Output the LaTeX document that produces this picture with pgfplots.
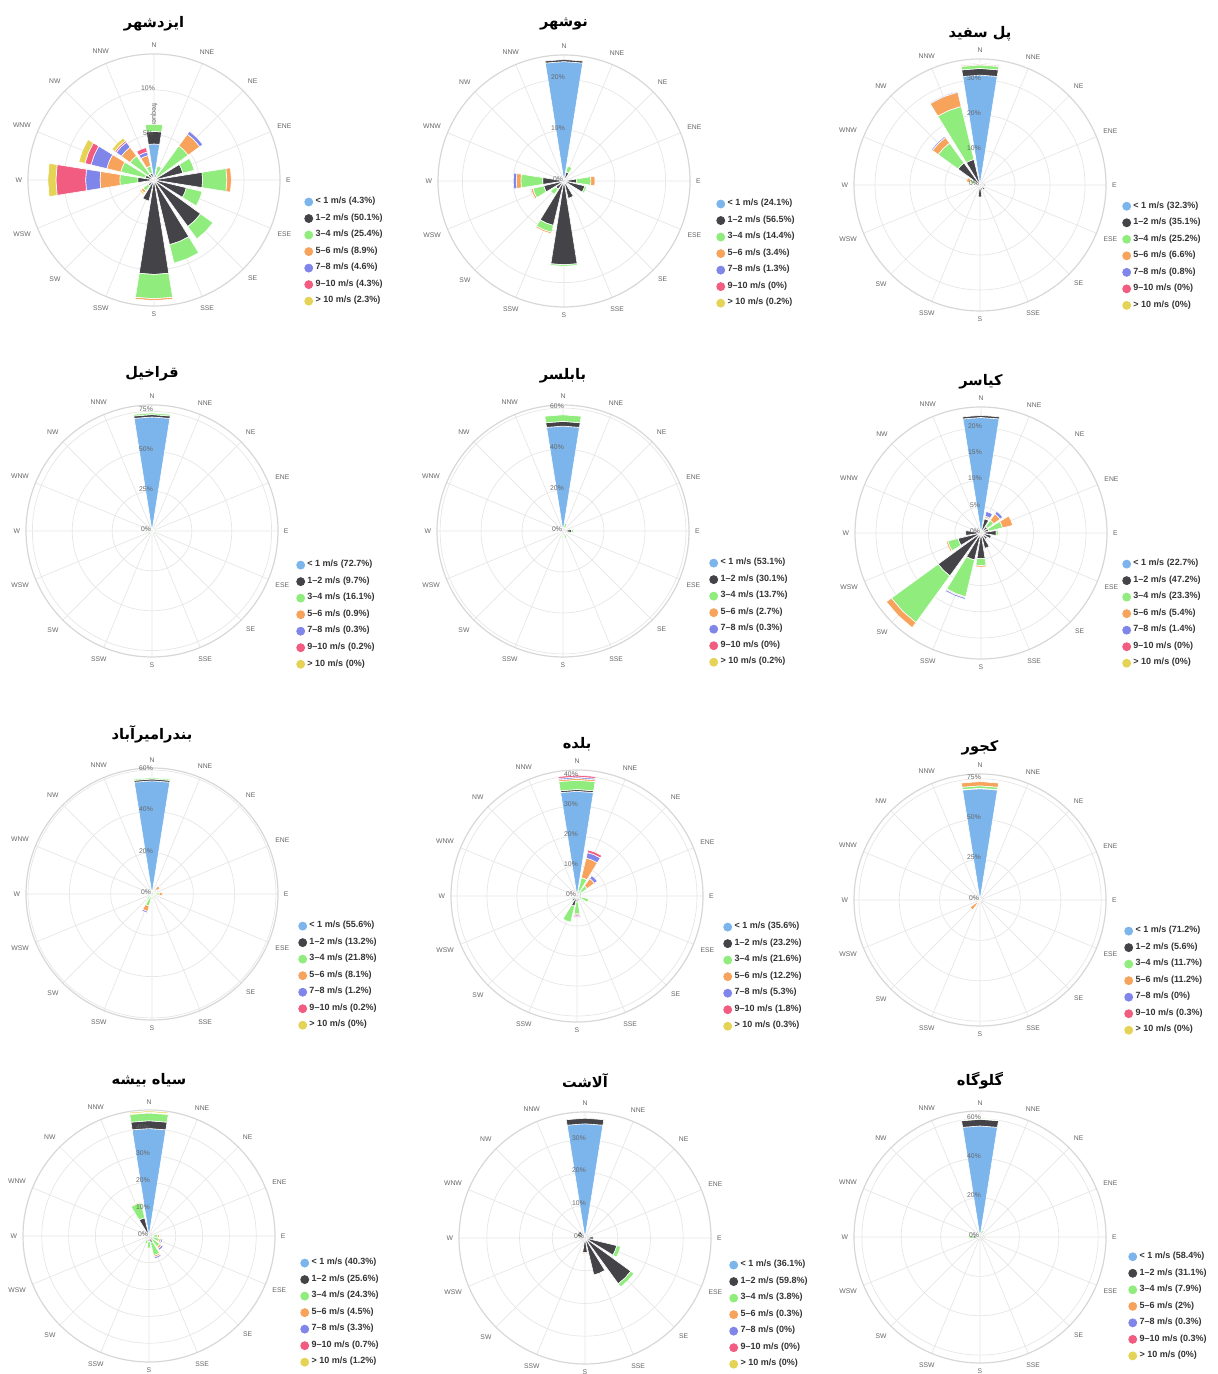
\documentclass[border=0pt]{standalone}
\usepackage{pgfplots}
\pgfplotsset{compat=1.18}
\usepackage{pgfplotstable}
\usepgfplotslibrary{polar}
\usepackage{fontspec}
\setmainfont{Liberation Sans}
\newfontfamily\arabicfont[Script=Arabic]{DejaVu Sans}
\TeXXeTstate=1

\definecolor{wc1}{HTML}{7CB5EC}
\definecolor{wc2}{HTML}{434348}
\definecolor{wc3}{HTML}{90ED7D}
\definecolor{wc4}{HTML}{F7A35C}
\definecolor{wc5}{HTML}{8085E9}
\definecolor{wc6}{HTML}{F15C80}
\definecolor{wc7}{HTML}{E4D354}
\definecolor{gridgray}{HTML}{E6E6E6}
\definecolor{labgray}{HTML}{666666}
\definecolor{legtext}{HTML}{333333}

% columns: <1, 1-2, 3-4, 5-6, 7-8, 9-10, >10 ; rows: N NNE NE ENE E ESE SE SSE S SSW SW WSW W WNW NW NNW
\pgfplotstableread{
c1 c2 c3 c4 c5 c6 c7
4.0 1.4 0.8 0 0 0 0
0 0.6 1.0 0 0 0 0
0 0.3 4.4 1.6 0.4 0 0
0 3.3 1.3 0 0 0 0
0 5.4 2.7 0.5 0 0 0
0 3.7 1.8 0 0 0 0
0 6.4 1.7 0 0 0 0
0 7.4 2.1 0 0 0 0
0 10.5 2.7 0.2 0 0 0
0 2.4 0 0 0 0 0
0 0.8 0.7 0.3 0 0 0.2
0 0.3 0 0 0 0 0
0 1.8 2.0 2.2 1.6 3.3 0.9
0 1.0 2.8 1.6 1.8 0.7 0.7
0 0.8 2.5 1.2 0.7 0.2 0.4
0.3 0.5 0.8 1.2 0.4 0.5 0
}\tA
\pgfplotstableread{
c1 c2 c3 c4 c5 c6 c7
23.5 0.4 0 0 0 0 0
0.3 1.5 1.2 0 0 0 0
0 0.5 0 0 0 0 0
0 0.8 0 0 0 0 0
0 2.5 2.8 0.8 0 0 0
0 4.2 0.4 0 0 0 0
0 1.0 0 0 0 0 0
0 3.5 0 0 0 0 0
0 16.5 0.3 0 0 0 0
0 9.0 1.4 0.3 0 0 0
0 2.0 1.3 0 0 0 0
0 4.1 2.2 0.4 0.2 0 0
0 4.2 4.3 0.9 0.6 0 0
0 0.8 0 0 0 0 0
0 0.5 0.5 0 0 0 0
0 0.5 0 0 0 0 0
}\tB
\pgfplotstableread{
c1 c2 c3 c4 c5 c6 c7
31.4 1.9 1.0 0.3 0.2 0 0
0 0.8 0 0 0 0 0
0 0.6 0 0 0 0 0
0 0.6 0 0 0 0 0
0 1.5 0 0 0 0 0
0 0.8 0 0 0 0 0
0.3 1.5 0 0 0 0 0
0 1.5 0 0 0 0 0
0 3.4 0 0 0 0 0
0 1.0 0 0 0 0 0
0 0.8 0 0 0 0 0
0 0.8 0 0 0 0 0
0 1.0 0.5 0 0 0 0
0 1.5 1.5 1.0 0 0 0
0.3 7.5 7.0 2.0 0.4 0 0
0.3 7.2 15.6 4.2 0.3 0 0
}\tC
\pgfplotstableread{
c1 c2 c3 c4 c5 c6 c7
71.5 1.5 1.0 0 0 0 0
0.1 0.5 1.0 0 0 0 0
0.1 0.5 2.5 0.3 0 0 0
0.1 0.5 1.0 0 0 0 0
0.1 0.6 1.0 0.1 0 0 0
0.1 0.5 0.8 0 0 0 0
0.1 0.5 0.8 0 0 0 0
0.1 0.5 0.8 0 0 0 0
0.1 0.6 1.5 0.2 0 0 0
0.1 0.5 0.8 0 0 0 0
0.1 0.5 0.8 0 0 0 0
0.1 0.5 0.8 0 0 0 0
0.1 0.6 1.0 0.1 0 0 0
0.1 0.5 0.8 0 0 0 0
0.1 0.5 0.8 0 0 0 0
0.1 0.5 0.8 0 0 0 0
}\tD
\pgfplotstableread{
c1 c2 c3 c4 c5 c6 c7
51.2 2.3 3.2 0 0 0 0
0.2 1.2 2.5 0.4 0 0 0
0.1 1.5 0.5 0 0 0 0
0.1 1.5 0.5 0 0 0 0
0.1 4.0 1.0 0 0 0 0
0.1 1.5 0.5 0 0 0 0
0.1 1.5 0.5 0 0 0 0
0.1 1.5 2.0 0 0 0 0
0.1 2.0 0.5 0 0 0 0
0.1 1.5 0.5 0 0 0 0
0.1 1.5 0.5 0 0 0 0
0.1 1.5 0.5 0 0 0 0
0.1 2.0 0.5 0 0 0 0
0.1 1.5 0.5 0 0 0 0
0.1 1.5 0.5 0 0 0 0
0.1 1.5 0.5 0 0 0 0
}\tE
\pgfplotstableread{
c1 c2 c3 c4 c5 c6 c7
22.0 0.4 0 0 0 0 0
0 2.8 0.2 0.3 0.9 0 0
0 1.5 1.5 1.5 0.6 0 0
0 1.5 2.7 2.0 0 0 0
0 2.9 0.4 0.2 0 0 0
0 2.0 0 0 0 0 0
0 1.5 0 0 0 0 0
0 3.0 0 0 0 0 0
0 4.9 1.3 0.3 0 0 0
0 5.3 7.2 0.2 0.3 0 0
0 10.1 11.0 1.2 0 0 0
0 4.5 2.0 0.3 0 0 0
0 2.9 0 0 0 0 0
0 1.0 0 0 0 0 0
0 0.5 0 0 0 0 0
0 0.5 0 0 0 0 0
}\tF
\pgfplotstableread{
c1 c2 c3 c4 c5 c6 c7
54.8 0.9 0.6 0 0 0 0
0 0.5 1.0 0.5 0 0 0
0 0.8 2.0 2.0 0.3 0 0
0 0.5 1.5 0.5 0 0 0
0 1.0 2.5 1.5 0 0 0
0 0.5 0.8 0 0 0 0
0 0.5 0.8 0 0 0 0
0 0.5 0.8 0 0 0 0
0 0.8 2.0 0.5 0 0 0
0 1.0 5.0 2.7 0.8 0.2 0
0 0.8 2.5 0.5 0 0 0
0 0.5 0.8 0 0 0 0
0 0.5 0.8 0 0 0 0
0 0.5 0.8 0 0 0 0
0 0.5 0.8 0 0 0 0
0 0.5 0.8 0 0 0 0
}\tG
\pgfplotstableread{
c1 c2 c3 c4 c5 c6 c7
34.9 0.6 3.1 0.6 0.5 0.6 0
0 1.5 4.8 6.7 1.9 0.9 0
0 1.2 3.0 3.0 1.2 0 0
0 1.5 0.5 0 0 0 0
0 1.5 0 0 0 0 0
0 1.5 2.5 0 0 0 0
0 1.0 0 0 0 0 0
0 1.5 0 0 0 0 0
0 2.0 4.0 0.4 0.4 0.4 0
0 3.5 5.5 0 0 0 0
0 2.0 0.5 0 0 0 0
0 1.0 0 0 0 0 0
0 1.0 0 0.3 0 0 0
0 0.8 0 0.5 0.3 0 0
0 0.8 0.5 0.5 0.3 0.5 0
0 0.8 0 0.3 0 0 0
}\tH
\pgfplotstableread{
c1 c2 c3 c4 c5 c6 c7
68.9 0.3 1.5 2.6 0 0 0
0.1 0.3 1.0 0 0 0 0
0.1 0.3 0.5 0 0 0 0
0.1 0.3 0.8 0 0 0 0
0.1 0.3 0.5 0 0 0 0
0.1 0.3 0.5 0 0 0 0
0.1 0.3 0.5 0 0 0 0
0.1 0.3 0.5 0 0 0 0
0.1 0.3 0.5 0.5 0 0 0
0.1 0.3 0.5 0.8 0 0 0
0.1 0.5 1.5 5.5 0 0 0
0.1 0.3 0.5 0.8 0 0 0
0.1 0.3 0.5 0 0 0 0
0.1 0.3 0.5 0 0 0 0
0.1 0.3 0.5 0 0 0 0
0.1 0.3 0.5 0 0 0 0
}\tI
\pgfplotstableread{
c1 c2 c3 c4 c5 c6 c7
40.1 2.9 2.9 0.3 0 0 0.5
0 0.6 0 0 0 0 0
0 0.6 0 0 0 0 0
0 0.6 0 0 0 0 0
0 1.5 1.8 0.6 0.3 0 0
0 1.5 2.5 0.7 0.6 0.2 0
0 2.0 3.0 0.8 0.8 0.3 0
0 2.5 5.0 0.6 0.6 0 0
0 2.0 2.5 0 0 0 0
0 1.5 1.5 0 0 0 0
0 0.6 0 0 0 0 0
0 0.6 0 0 0 0 0
0 1.0 0.3 0 0 0 0
0 0.6 0 0 0 0 0
0 0.6 0 0 0 0 0
0 7.0 5.8 0.4 0 0.3 0
}\tJ
\pgfplotstableread{
c1 c2 c3 c4 c5 c6 c7
34.9 1.7 0 0 0 0 0
0 0.8 0 0 0 0 0
0 0.8 0 0 0 0 0
0 0.8 0 0 0 0 0
0 2.5 0 0 0 0 0
0 10.0 1.2 0 0 0 0
0 17.3 1.2 0 0 0 0
0 11.6 0 0 0 0 0
0 4.5 0 0.3 0 0 0
0 0.8 0 0 0 0 0
0 0.8 0 0 0 0 0
0 0.8 0 0 0 0 0
0 1.5 0.3 0 0 0 0
0 2.5 0.3 0 0 0 0
0 2.5 0 0 0 0 0
0 0.8 0 0 0 0 0
}\tK
\pgfplotstableread{
c1 c2 c3 c4 c5 c6 c7
56.4 3.4 0.3 0 0 0 0
0 2.0 1.5 0 0 0 0
0 1.0 0.5 0 0 0 0
0 1.0 0 0 0 0 0
0 2.5 0.5 0 0 0 0
0 1.0 0 0 0 0 0
0 1.0 0 0 0 0 0
0 1.0 0 0 0 0 0
0 1.5 0 0 0 0 0
0 1.0 0 0 0 0 0
0 1.0 0 0 0 0 0
0 1.0 0.5 0 0 0 0
0 3.5 2.0 0.3 0 0 0
0 1.5 0.5 0 0 0 0
0 1.0 0 0 0 0 0
0 1.0 0 0 0 0 0
}\tL

% stacked wedges of one wind rose, read from a table
\newcommand\rose[1]{%
 \pgfplotsforeachungrouped \wk in {0,...,15}{%
  \def\wcum{0}%
  \pgfmathsetmacro\wang{90-22.5*\wk}%
  \pgfmathsetmacro\waL{\wang-9}%
  \pgfmathsetmacro\waR{\wang+9}%
  \pgfplotsforeachungrouped \wc in {1,...,7}{%
   \edef\wtmp{\noexpand\pgfplotstablegetelem{\wk}{c\wc}}\wtmp\of{#1}%
   \let\wv\pgfplotsretval
   \ifdim\wv pt>0.001pt
    \pgfmathsetmacro\whi{\wcum+\wv}%
    \edef\wplot{\noexpand\addplot[forget plot, fill=wc\wc, draw=white, line width=0.3pt] coordinates {(\waL,\wcum) (\waL,\whi) (\wang,\whi) (\waR,\whi) (\waR,\wcum) (\wang,\wcum) (\waL,\wcum)};}%
    \wplot
    \let\wcum\whi
   \fi
  }%
 }%
}
\newcommand\rlab[1]{\pgfplotsinvokeforeach{#1}{\node[font=\fontsize{3.4}{4}\selectfont, text=labgray, xshift=-3pt, yshift=1pt, inner sep=0pt] at (axis cs:90,##1) {##1\%};}}
\newcommand\leg[7]{%
 \addlegendimage{wc1}\addlegendentry{< 1 m/s (#1\%)}%
 \addlegendimage{wc2}\addlegendentry{1–2 m/s (#2\%)}%
 \addlegendimage{wc3}\addlegendentry{3–4 m/s (#3\%)}%
 \addlegendimage{wc4}\addlegendentry{5–6 m/s (#4\%)}%
 \addlegendimage{wc5}\addlegendentry{7–8 m/s (#5\%)}%
 \addlegendimage{wc6}\addlegendentry{9–10 m/s (#6\%)}%
 \addlegendimage{wc7}\addlegendentry{> 10 m/s (#7\%)}%
}
\newcommand\tfont{\arabicfont\bfseries\fontsize{7.3}{9}\selectfont}

\pgfplotsset{
 rose/.style={
  scale only axis, width=126pt, height=126pt, anchor=center,
  xmin=0, xmax=360, ymin=0,
  xtick={0,22.5,...,337.5},
  xticklabels={E,ENE,NE,NNE,N,NNW,NW,WNW,W,WSW,SW,SSW,S,SSE,SE,ESE},
  xticklabel style={font=\fontsize{3.4}{4}\selectfont, text=labgray, inner sep=2.8pt},
  yticklabels=\empty,
  xtick style={draw=none}, ytick style={draw=none},
  xmajorgrids, ymajorgrids,
  major grid style={gridgray, line width=0.35pt},
  x axis line style={gridgray!85!gray, line width=0.6pt},
  y axis line style={draw=none},
  clip=false,
  legend cell align=left,
  legend image code/.code={\fill[##1] (2pt,0pt) circle (2pt);},
  legend style={draw=none, fill=none, anchor=north west, inner sep=0pt,
    font=\fontsize{4.5}{5}\selectfont\bfseries, text=legtext, row sep=2.5pt,
    nodes={inner sep=0.5pt, inner xsep=1.2pt}},
 },
 ttlpos/.style={title style={at={(0.5,#1)}, anchor=center}},
}

\begin{document}
\begin{tikzpicture}
\useasboundingbox (0,0) rectangle (609pt,687pt);

% row 1
\begin{polaraxis}[rose, at={(77pt,597pt)}, ymax=14, ytick={0,5,10},
  title={\tfont\beginR ایزدشهر\endR}, ttlpos=1.004, legend style={at={(1.095,0.437)}}]
\node[rotate=-90, anchor=west, font=\fontsize{3.6}{4}\selectfont, text=labgray, inner sep=0pt, xshift=2.5pt] at (axis cs:90,9.1) {frequency (\%)};
\rose{\tA}
\rlab{5,10}
\leg{4.3}{50.1}{25.4}{8.9}{4.6}{4.3}{2.3}
\end{polaraxis}

\begin{polaraxis}[rose, at={(282pt,596.5pt)}, ymax=24.8, ytick={0,10,20},
  title={\tfont\beginR نوشهر\endR}, ttlpos=1.008, legend style={at={(1.103,0.433)}}]
\rose{\tB}
\rlab{0,10,20}
\leg{24.1}{56.5}{14.4}{3.4}{1.3}{0}{0.2}
\end{polaraxis}

\begin{polaraxis}[rose, at={(490pt,594.5pt)}, ymax=36, ytick={0,10,20,30},
  title={\tfont\beginR پل سفید\endR}, ttlpos=0.984, legend style={at={(1.063,0.440)}}]
\rose{\tC}
\rlab{0,10,20,30}
\leg{32.3}{35.1}{25.2}{6.6}{0.8}{0}{0}
\end{polaraxis}

% row 2
\begin{polaraxis}[rose, at={(76pt,421.5pt)}, ymax=79, ytick={0,25,50,75},
  title={\tfont\beginR قراخیل\endR}, ttlpos=1.008, legend style={at={(1.071,0.389)}}]
\rose{\tD}
\rlab{0,25,50,75}
\leg{72.7}{9.7}{16.1}{0.9}{0.3}{0.2}{0}
\end{polaraxis}

\begin{polaraxis}[rose, at={(281.5pt,421.5pt)}, ymax=61.5, ytick={0,20,40,60},
  title={\tfont\beginR بابلسر\endR}, ttlpos=1.0, legend style={at={(1.079,0.397)}}]
\rose{\tE}
\rlab{0,20,40,60}
\leg{53.1}{30.1}{13.7}{2.7}{0.3}{0}{0.2}
\end{polaraxis}

\begin{polaraxis}[rose, at={(490.5pt,420.5pt)}, ymax=24, ytick={0,5,10,15,20},
  title={\tfont\beginR کیاسر\endR}, ttlpos=0.984, legend style={at={(1.059,0.401)}}]
\rose{\tF}
\rlab{0,5,10,15,20}
\leg{22.7}{47.2}{23.3}{5.4}{1.4}{0}{0}
\end{polaraxis}

% row 3
\begin{polaraxis}[rose, at={(76pt,240pt)}, ymax=61, ytick={0,20,40,60},
  title={\tfont\beginR بندرامیرآباد\endR}, ttlpos=1.020, legend style={at={(1.079,0.397)}}]
\rose{\tG}
\rlab{0,20,40,60}
\leg{55.6}{13.2}{21.8}{8.1}{1.2}{0.2}{0}
\end{polaraxis}

\begin{polaraxis}[rose, at={(288.5pt,239pt)}, ymax=42, ytick={0,10,20,30,40},
  title={\tfont\beginR بلده\endR}, ttlpos=0.988, legend style={at={(1.079,0.401)}}]
\rose{\tH}
\rlab{0,10,20,30,40}
\leg{35.6}{23.2}{21.6}{12.2}{5.3}{1.8}{0.3}
\end{polaraxis}

\begin{polaraxis}[rose, at={(490pt,237pt)}, ymax=78, ytick={0,25,50,75},
  title={\tfont\beginR کجور\endR}, ttlpos=0.988, legend style={at={(1.071,0.401)}}]
\rose{\tI}
\rlab{0,25,50,75}
\leg{71.2}{5.6}{11.7}{11.2}{0}{0.3}{0}
\end{polaraxis}

% row 4
\begin{polaraxis}[rose, at={(74.5pt,69pt)}, ymax=47, ytick={0,10,20,30,40},
  title={\tfont\beginR سیاه بیشه\endR}, ttlpos=1.004, legend style={at={(1.099,0.417)}}]
\rose{\tJ}
\rlab{0,10,20,30,40}
\leg{40.3}{25.6}{24.3}{4.5}{3.3}{0.7}{1.2}
\end{polaraxis}

\begin{polaraxis}[rose, at={(292.5pt,68pt)}, ymax=38.5, ytick={0,10,20,30},
  title={\tfont\beginR آلاشت\endR}, ttlpos=1.012, legend style={at={(1.071,0.417)}}]
\rose{\tK}
\rlab{0,10,20,30}
\leg{36.1}{59.8}{3.8}{0.3}{0}{0}{0}
\end{polaraxis}

\begin{polaraxis}[rose, at={(490pt,68.5pt)}, ymax=64, ytick={0,20,40,60},
  title={\tfont\beginR گلوگاه\endR}, ttlpos=1.006, legend style={at={(1.087,0.446)}}]
\rose{\tL}
\rlab{0,20,40,60}
\leg{58.4}{31.1}{7.9}{2}{0.3}{0.3}{0}
\end{polaraxis}
\end{tikzpicture}
\end{document}
